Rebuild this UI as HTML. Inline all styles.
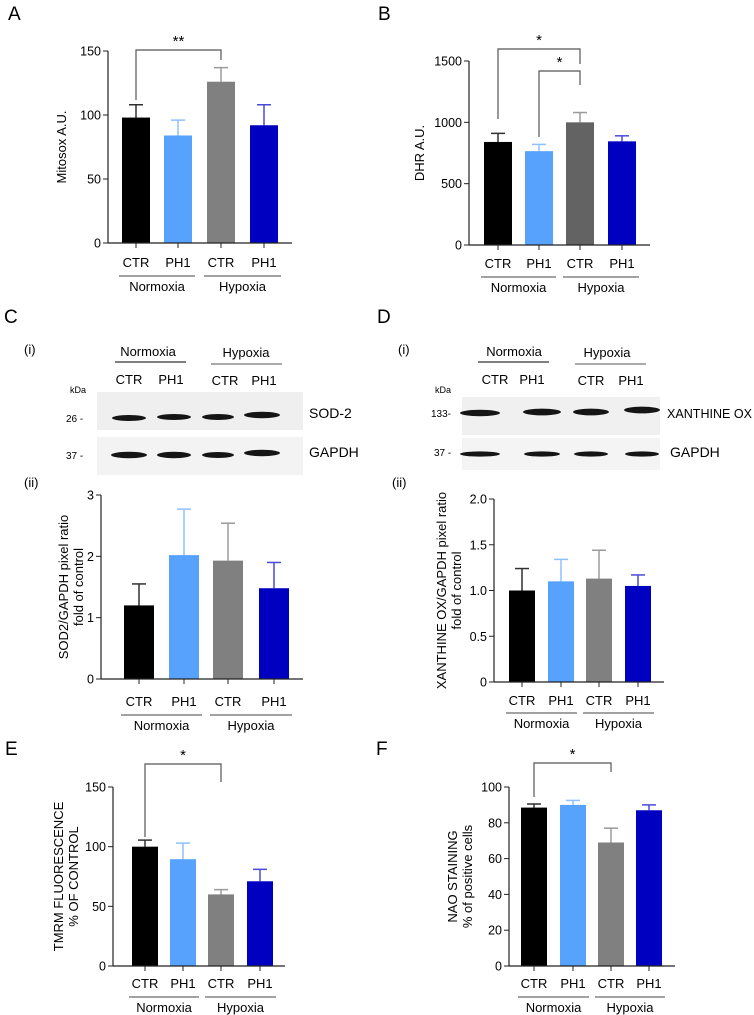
<!DOCTYPE html>
<html><head><meta charset="utf-8">
<style>
html,body{margin:0;padding:0;background:#fff;}
svg{display:block;font-family:"Liberation Sans",Arial,sans-serif;}
</style></head>
<body>
<svg id="fig" width="754" height="1015" viewBox="0 0 754 1015" xmlns="http://www.w3.org/2000/svg">
<g font-size="19" fill="#000">
<text x="8" y="20">A</text><text x="378" y="20">B</text>
<text x="4" y="323">C</text><text x="377" y="323">D</text>
<text x="5" y="755">E</text><text x="376" y="755">F</text>
</g>
<g font-size="13">
<text x="24" y="354">(i)</text>
<text x="148" y="356" text-anchor="middle">Normoxia</text>
<line x1="115" y1="362" x2="186" y2="362" stroke="#000"/>
<text x="246" y="357" text-anchor="middle">Hypoxia</text>
<line x1="211" y1="364" x2="282" y2="364" stroke="#555"/>
<text x="129" y="384" text-anchor="middle">CTR</text><text x="171" y="384" text-anchor="middle">PH1</text>
<text x="225" y="385" text-anchor="middle">CTR</text><text x="264" y="385" text-anchor="middle">PH1</text>
<text x="70" y="393" font-size="9">kDa</text>
<text x="66" y="422" font-size="10">26 -</text><text x="66" y="459" font-size="10">37 -</text>
<rect x="97" y="392" width="206" height="38" fill="#efefef"/>
<rect x="97" y="437" width="206" height="38" fill="#f3f3f3"/>
<g fill="#151515">
<ellipse cx="129" cy="418" rx="17" ry="3"/><ellipse cx="174" cy="417" rx="17" ry="3"/>
<ellipse cx="218" cy="417" rx="16" ry="3"/><ellipse cx="262" cy="415" rx="18" ry="3.2"/>
<ellipse cx="129" cy="455" rx="18" ry="3.2"/><ellipse cx="174" cy="455" rx="17" ry="3.2"/>
<ellipse cx="218" cy="455" rx="16" ry="3"/><ellipse cx="262" cy="453" rx="18" ry="3.2"/>
</g>
<text x="309" y="418" font-size="14">SOD-2</text><text x="309" y="457" font-size="14">GAPDH</text>
<text x="24" y="487">(ii)</text>
</g>
<g font-size="13">
<text x="398" y="354">(i)</text>
<text x="514" y="356" text-anchor="middle">Normoxia</text>
<line x1="478" y1="362" x2="549" y2="362" stroke="#000"/>
<text x="607" y="357" text-anchor="middle">Hypoxia</text>
<line x1="575" y1="364" x2="646" y2="364" stroke="#555"/>
<text x="495" y="384" text-anchor="middle">CTR</text><text x="532" y="384" text-anchor="middle">PH1</text>
<text x="591" y="385" text-anchor="middle">CTR</text><text x="631" y="385" text-anchor="middle">PH1</text>
<text x="435" y="393" font-size="9">kDa</text>
<text x="431" y="417" font-size="10">133-</text><text x="434" y="456" font-size="10">37 -</text>
<rect x="462" y="397" width="198" height="38" fill="#f0f0f0"/>
<rect x="462" y="438" width="198" height="32" fill="#f4f4f4"/>
<g fill="#151515">
<ellipse cx="480" cy="413" rx="20" ry="3.2"/><ellipse cx="542" cy="412" rx="19" ry="3.4"/>
<ellipse cx="591" cy="412" rx="18" ry="3.4"/><ellipse cx="642" cy="410" rx="18" ry="3.4"/>
<ellipse cx="480" cy="454" rx="20" ry="2.6"/><ellipse cx="542" cy="454" rx="18" ry="2.6"/>
<ellipse cx="591" cy="454" rx="17" ry="2.6"/><ellipse cx="642" cy="454" rx="17" ry="2.6"/>
</g>
<text x="667" y="418" font-size="13" textLength="85" lengthAdjust="spacingAndGlyphs">XANTHINE OX</text><text x="670" y="457" font-size="14">GAPDH</text>
<text x="392" y="487">(ii)</text>
</g>
</svg>
<script>
// Category labels
const categories = ["CTR", "PH1", "CTR", "PH1"];
const groups = ["Normoxia", "Hypoxia"];
// Panel A: Mitosox
const valuesA = [98, 84, 126, 92];
const errorsA = [10, 12, 11, 16];
const ticksA = [0, 50, 100, 150];
// Panel B: DHR
const valuesB = [840, 765, 1000, 845];
const errorsB = [70, 55, 80, 45];
const ticksB = [0, 500, 1000, 1500];
// Panel C(ii): SOD2/GAPDH
const valuesC = [1.2, 2.02, 1.93, 1.48];
const errorsC = [0.35, 0.75, 0.61, 0.42];
const ticksC = [0, 1, 2, 3];
// Panel D(ii): Xanthine OX/GAPDH
const valuesD = [1.0, 1.1, 1.13, 1.05];
const errorsD = [0.24, 0.24, 0.31, 0.12];
const ticksD = [0, 0.5, 1.0, 1.5, 2.0];
const tickLabelsD = ["0", "0.5", "1.0", "1.5", "2.0"];
// Panel E: TMRM
const valuesE = [100, 89.5, 60, 71];
const errorsE = [5.5, 13.5, 4, 10];
const ticksE = [0, 50, 100, 150];
// Panel F: NAO
const valuesF = [88.5, 90, 69, 87];
const errorsF = [2, 2.5, 8, 3];
const ticksF = [0, 20, 40, 60, 80, 100];

const NS = "http://www.w3.org/2000/svg";
const svg = document.getElementById("fig");
function mk(tag, attrs, parent, text) {
  const e = document.createElementNS(NS, tag);
  for (const k in attrs) e.setAttribute(k, attrs[k]);
  if (text !== undefined) e.textContent = text;
  parent.appendChild(e);
  return e;
}
const fills = ["#000000", "#56a2fd", "#808080", "#0000c0"];
const errCols = ["#303030", "#8cc0ff", "#9a9a9a", "#4a4ad8"];

function chart(o) {
  const g = mk("g", {}, svg);
  
  
  const ymax = o.ticks[o.ticks.length - 1];
  const y = v => o.y0 - (v / ymax) * (o.y0 - o.yTop);
  const fill = o.fills || fills;
  o.values.forEach((v, i) => {
    const x = o.barX[i];
    const cx = x + o.bw / 2;
    const top = y(v + o.errors[i]);
    const el = mk("line", {x1: cx, x2: cx, y1: y(v), y2: top, stroke: errCols[i], "stroke-width": 1.5}, g);
    
    
    const cap = mk("line", {x1: cx - 7, x2: cx + 7, y1: top, y2: top, stroke: errCols[i], "stroke-width": 1.5}, g);
    
    
    const r = mk("rect", {x: x, y: y(v), width: o.bw, height: o.y0 - y(v), fill: fill[i]}, g);
    
    
    const tk = mk("line", {x1: cx, x2: cx, y1: o.y0, y2: o.y0 + 5, stroke: "#222", "stroke-width": 1}, g);
    
    
    const t = mk("text", {x: cx, y: o.catY, "text-anchor": "middle", "font-size": 13}, g, categories[i]);
    
    
  });
  const ax = mk("line", {x1: o.ax, x2: o.ax, y1: o.yTop, y2: o.y0, stroke: "#222", "stroke-width": 1.2}, g);
  
  
  const xa = mk("line", {x1: o.ax, x2: o.axEnd, y1: o.y0, y2: o.y0, stroke: "#222", "stroke-width": 1.2}, g);
  
  
  o.ticks.forEach((tv, i) => {
    const ty = y(tv);
    const tl = mk("line", {x1: o.ax - 5, x2: o.ax, y1: ty, y2: ty, stroke: "#222"}, g);
    
    
    const lab = o.tickLabels ? o.tickLabels[i] : String(tv);
    const tt = mk("text", {x: o.ax - 7, y: ty + 4.5, "text-anchor": "end", "font-size": 12.5}, g, lab);
    
    
  });
  const yt = mk("text", {transform: `translate(${o.titleX},${(o.y0 + o.yTop) / 2}) rotate(-90)`, "text-anchor": "middle", "font-size": 13}, g);
  
  
  o.title.forEach((line, k) => {
    mk("tspan", {x: 0, dy: k === 0 ? 0 : 15}, yt, line);
  });
  groups.forEach((gn, k) => {
    const x1 = o.barX[k * 2] - 3, x2 = o.barX[k * 2 + 1] + o.bw + 3;
    const gl = mk("line", {x1: x1, x2: x2, y1: o.grpY, y2: o.grpY, stroke: "#444", "stroke-width": 1}, g);
    
    
    const gt = mk("text", {x: (x1 + x2) / 2, y: o.grpY + 15, "text-anchor": "middle", "font-size": 13}, g, gn);
    
    
  });
  (o.brackets || []).forEach(b => {
    const xa1 = o.barX[b.a] + o.bw / 2, xb = o.barX[b.b] + o.bw / 2;
    const p = mk("polyline", {points: `${xa1},${b.yl} ${xa1},${b.y} ${xb},${b.y} ${xb},${b.yr}`, fill: "none", stroke: "#555", "stroke-width": 1.2}, g);
    
    
    const s = mk("text", {x: (xa1 + xb) / 2, y: b.y - 4, "text-anchor": "middle", "font-size": 15}, g, b.label);
    
    
  });
}

chart({name: "chart-a-mitosox", values: valuesA, errors: errorsA, ticks: ticksA, ax: 108, axEnd: 292, yTop: 51, y0: 243, barX: [122, 164, 207, 250], bw: 28, catY: 267, grpY: 276, titleX: 66, title: ["Mitosox A.U."],
  brackets: [{a: 0, b: 2, y: 50, yl: 100, yr: 60, label: "**"}]});
chart({name: "chart-b-dhr", values: valuesB, errors: errorsB, ticks: ticksB, ax: 469, axEnd: 650, yTop: 61, y0: 245, barX: [484, 525, 566, 608], bw: 28, catY: 268, grpY: 277, titleX: 424, title: ["DHR A.U."], fills: ["#000000", "#56a2fd", "#636363", "#0000c0"],
  brackets: [{a: 0, b: 2, y: 49, yl: 119, yr: 64, label: "*"}, {a: 1, b: 2, y: 71, yl: 137, yr: 85, label: "*"}]});
chart({name: "chart-c-sod2", values: valuesC, errors: errorsC, ticks: ticksC, ax: 101, axEnd: 303, yTop: 495, y0: 679, barX: [124, 169, 213, 259], bw: 30, catY: 706, grpY: 715, titleX: 68, title: ["SOD2/GAPDH pixel ratio", "fold of control"]});
chart({name: "chart-d-xanthine", values: valuesD, errors: errorsD, ticks: ticksD, tickLabels: tickLabelsD, ax: 494, axEnd: 664, yTop: 499, y0: 682, barX: [509, 548, 586, 625], bw: 26, catY: 705, grpY: 713, titleX: 446, title: ["XANTHINE OX/GAPDH pixel ratio", "fold of control"]});
chart({name: "chart-e-tmrm", values: valuesE, errors: errorsE, ticks: ticksE, ax: 113, axEnd: 285, yTop: 787, y0: 966, barX: [132, 170, 208, 247], bw: 26, catY: 988, grpY: 997, titleX: 63, title: ["TMRM FLUORESCENCE", "% OF CONTROL"],
  brackets: [{a: 0, b: 2, y: 764, yl: 837, yr: 782, label: "*"}]});
chart({name: "chart-f-nao", values: valuesF, errors: errorsF, ticks: ticksF, ax: 509, axEnd: 675, yTop: 787, y0: 966, barX: [521, 560, 598, 636], bw: 26, catY: 988, grpY: 997, titleX: 457, title: ["NAO STAINING", "% of positive cells"],
  brackets: [{a: 0, b: 2, y: 763, yl: 797, yr: 772, label: "*"}]});
</script>
</body></html>
